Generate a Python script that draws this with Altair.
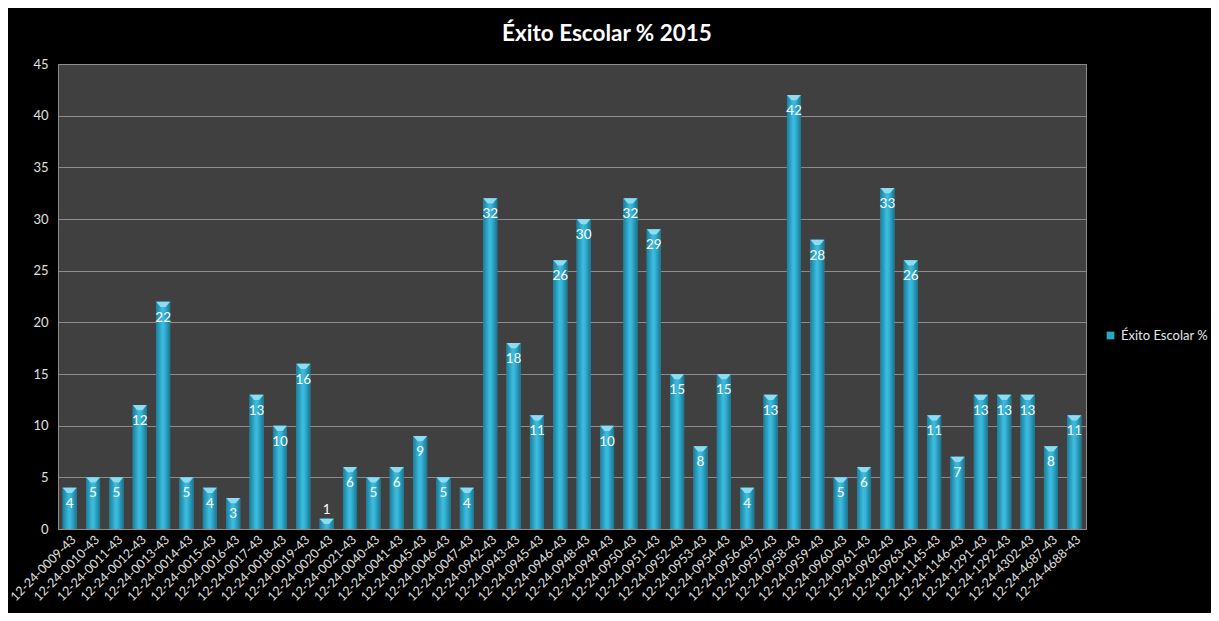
import altair as alt
import pandas as pd

codes = ["0009", "0010", "0011", "0012", "0013", "0014", "0015", "0016", "0017", "0018",
         "0019", "0020", "0021", "0040", "0041", "0045", "0046", "0047", "0942", "0943",
         "0945", "0946", "0948", "0949", "0950", "0951", "0952", "0953", "0954", "0956",
         "0957", "0958", "0959", "0960", "0961", "0962", "0963", "1145", "1146", "1291",
         "1292", "4302", "4687", "4688"]
categories = ["12-24-" + c + "-43" for c in codes]
values = [4, 5, 5, 12, 22, 5, 4, 3, 13, 10, 16, 1, 6, 5, 6, 9, 5, 4, 32, 18,
          11, 26, 30, 10, 32, 29, 15, 8, 15, 4, 13, 42, 28, 5, 6, 33, 26, 11, 7, 13,
          13, 13, 8, 11]
series_name = "Éxito Escolar %"
title_text = "Éxito Escolar % 2015"

df = pd.DataFrame({"cat": categories, "val": values, "serie": [series_name] * len(values)})

FONT = "Lato"
x_enc = alt.X("cat:N", sort=categories, title=None,
              scale=alt.Scale(paddingInner=0.4, paddingOuter=0.2),
              axis=alt.Axis(labelAngle=-45, labelAlign="right", labelBaseline="top",
                            labelColor="#e0e0e0", labelFont=FONT, labelFontSize=12.5,
                            ticks=False, domainColor="#8c8c8c", labelPadding=4))
y_enc = alt.Y("val:Q", title=None,
              scale=alt.Scale(domain=[0, 45]),
              axis=alt.Axis(values=list(range(0, 46, 5)), labelColor="#e0e0e0", labelFont=FONT,
                            labelFontSize=13, ticks=False, domain=False, gridColor="#8c8c8c",
                            gridWidth=1, labelPadding=10))

base = alt.Chart(df)

legend_bars = base.mark_bar().encode(
    x=x_enc, y=y_enc,
    color=alt.Color("serie:N", scale=alt.Scale(range=["#2aa6c8"]),
                    legend=alt.Legend(title=None, orient="none", legendX=1046, legendY=265,
                                      symbolType="square", symbolSize=60,
                                      labelColor="#e6e6e6", labelFont=FONT, labelFontSize=13,
                                      symbolStrokeWidth=0))
)

grad = alt.Gradient(
    gradient="linear", x1=0, x2=1, y1=0, y2=0,
    stops=[alt.GradientStop(offset=0, color="#1b7f9c"),
           alt.GradientStop(offset=0.45, color="#3cbde0"),
           alt.GradientStop(offset=0.6, color="#36b3d6"),
           alt.GradientStop(offset=1, color="#187691")])

bars = base.mark_bar(color=grad).encode(x=x_enc, y=y_enc)

caps = base.mark_point(
    shape="M-1,0 L1,0 L0.35,0.75 L-0.35,0.75 Z", size=196, filled=True,
    color="#8fdcf0", opacity=1
).encode(x=x_enc, y=y_enc)

labels_in = base.transform_filter("datum.val >= 2").mark_text(
    color="white", font=FONT, fontSize=13.5, baseline="middle", dy=16
).encode(x=x_enc, y=y_enc, text="val:Q")

labels_out = base.transform_filter("datum.val < 2").mark_text(
    color="white", font=FONT, fontSize=13.5, baseline="middle", dy=-9
).encode(x=x_enc, y=y_enc, text="val:Q")

chart = alt.layer(legend_bars, bars, caps, labels_in, labels_out).properties(
    width=1028, height=465,
    title=alt.TitleParams(title_text, color="white", font=FONT, fontSize=22.5, fontWeight="bold",
                          dx=35, offset=13),
    background="black",
    padding={"left": 50, "top": 56, "right": 125, "bottom": 84},
    autosize=alt.AutoSizeParams(type="none"),
).configure_view(
    fill="#404040", stroke="#8c8c8c", strokeWidth=1
)

chart.save("out.html", embed_options={"renderer": "svg", "actions": False})
